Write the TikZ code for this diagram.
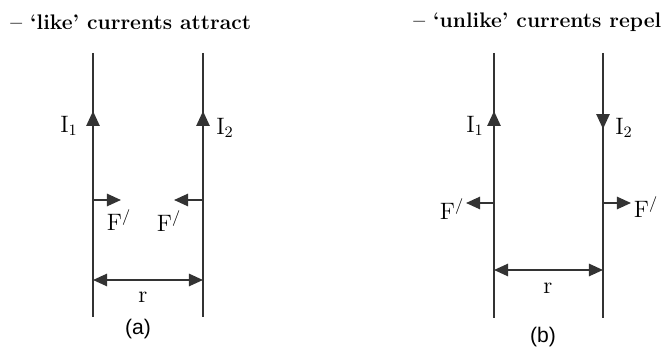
\documentclass[tikz,border=0pt]{standalone}
\usepackage{fontspec}
\newfontfamily\capfont{Liberation Sans}
\usetikzlibrary{arrows.meta,positioning}

\begin{document}
\begin{tikzpicture}[x=0.02cm,y=-0.02cm,
  wire/.style={draw=black!80,line width=1.1pt},
  cur/.style={wire,-{Triangle[length=8.5pt,width=7.5pt]}},
  force/.style={wire,-{Triangle[length=8pt,width=7pt]}},
  sep/.style={wire,{Triangle[length=8pt,width=7pt]}-{Triangle[length=8pt,width=7pt]}},
  lbl/.style={font=\fontsize{13.5}{15}\selectfont,inner sep=0pt},
  title/.style={font=\large\bfseries,anchor=west,inner sep=0pt},
  subcap/.style={font=\capfont\large,inner sep=0pt}]
  \useasboundingbox (0,0) rectangle (665,350);
  % (a) like currents
  \node[title] (TA) at (10,22) {-- `like' currents attract};
  \coordinate (A1t) at (93,53);  \coordinate (A1b) at (93,317);
  \coordinate (A2t) at (203,53); \coordinate (A2b) at (203,317);
  \draw[wire] (A1t) -- (A1b);
  \draw[wire] (A2t) -- (A2b);
  \draw[cur] (93,132) -- (93,111);
  \draw[cur] (203,132) -- (203,111);
  \node[lbl] (AI1) at (69,126) {$\mathrm{I}_1$};
  \node[lbl] (AI2) at (225,128) {$\mathrm{I}_2$};
  \coordinate (AF1) at (93,200);  \coordinate (AF1e) at (121,200);
  \coordinate (AF2) at (203,200); \coordinate (AF2e) at (174,200);
  \draw[force] (AF1) -- (AF1e);
  \draw[force] (AF2) -- (AF2e);
  \node[lbl] (AF1l) at (119,220) {$\mathrm{F}^{/}$};
  \node[lbl] (AF2l) at (169,221) {$\mathrm{F}^{/}$};
  \coordinate (AR1) at (93,280); \coordinate (AR2) at (203,280);
  \draw[sep] (AR1) -- (AR2);
  \node[lbl] (Ar) at (143,297) {r};
  \node[subcap] (Acap) at (138,329) {(a)};
  % (b) unlike currents
  \node[title] (TB) at (413,22) {-- `unlike' currents repel};
  \coordinate (B1t) at (494,53);  \coordinate (B1b) at (494,318);
  \coordinate (B2t) at (603,53);  \coordinate (B2b) at (603,318);
  \draw[wire] (B1t) -- (B1b);
  \draw[wire] (B2t) -- (B2b);
  \draw[cur] (494,132) -- (494,111);
  \draw[cur] (603,108) -- (603,129);
  \node[lbl] (BI1) at (475,126) {$\mathrm{I}_1$};
  \node[lbl] (BI2) at (624,128) {$\mathrm{I}_2$};
  \coordinate (BF1) at (494,203); \coordinate (BF1e) at (466,203);
  \coordinate (BF2) at (603,203); \coordinate (BF2e) at (631,203);
  \draw[force] (BF1) -- (BF1e);
  \draw[force] (BF2) -- (BF2e);
  \node[lbl] (BF1l) at (452,209) {$\mathrm{F}^{/}$};
  \node[lbl] (BF2l) at (646,207) {$\mathrm{F}^{/}$};
  \coordinate (BR1) at (494,270); \coordinate (BR2) at (603,270);
  \draw[sep] (BR1) -- (BR2);
  \node[lbl] (Br) at (548,288) {r};
  \node[subcap] (Bcap) at (543,337) {(b)};
\end{tikzpicture}
\end{document}
